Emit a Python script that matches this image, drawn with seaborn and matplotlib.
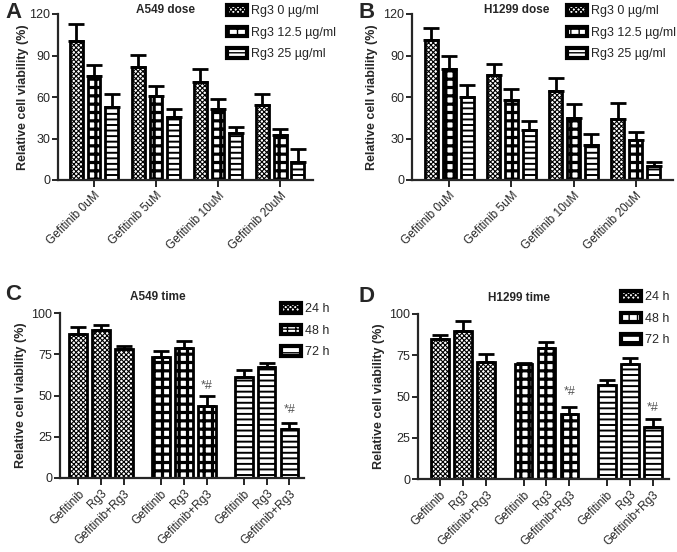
import numpy as np
import pandas as pd
import seaborn as sns
import matplotlib
matplotlib.use("Agg")
import matplotlib.pyplot as plt
from matplotlib.patches import Patch
from matplotlib.container import BarContainer

# ---------------- data ----------------
dose_cats = ["Gefitinib 0uM", "Gefitinib 5uM", "Gefitinib 10uM", "Gefitinib 20uM"]
dose_levels = ["Rg3 0 \u00b5g/ml", "Rg3 12.5 \u00b5g/ml", "Rg3 25 \u00b5g/ml"]

a549_rg3_0 = [100.8, 82.0, 70.5, 54.0]
a549_rg3_0_err = [12.0, 8.4, 9.5, 8.0]
a549_rg3_12 = [75.3, 61.0, 51.0, 32.5]
a549_rg3_12_err = [7.7, 7.0, 7.7, 4.5]
a549_rg3_25 = [53.0, 45.5, 34.0, 13.0]
a549_rg3_25_err = [9.3, 5.5, 4.0, 9.4]

h1299_rg3_0 = [101.0, 76.0, 64.0, 44.0]
h1299_rg3_0_err = [9.0, 8.0, 10.0, 12.0]
h1299_rg3_12 = [80.0, 58.0, 45.0, 29.0]
h1299_rg3_12_err = [10.0, 8.0, 10.0, 6.0]
h1299_rg3_25 = [60.0, 36.0, 25.0, 10.0]
h1299_rg3_25_err = [9.0, 7.0, 8.0, 3.0]

time_treat = ["Gefitinib", "Rg3", "Gefitinib+Rg3"]
time_levels = ["24 h", "48 h", "72 h"]

a549_24h = [87.0, 89.5, 78.0]
a549_24h_err = [4.5, 3.5, 2.0]
a549_48h = [73.5, 78.5, 43.5]
a549_48h_err = [3.5, 4.5, 6.0]
a549_72h = [61.0, 67.5, 30.0]
a549_72h_err = [4.5, 2.0, 3.5]

h1299_24h = [85.0, 90.0, 71.0]
h1299_24h_err = [2.0, 5.5, 5.0]
h1299_48h = [69.5, 79.5, 39.5]
h1299_48h_err = [1.0, 3.5, 4.0]
h1299_72h = [57.0, 70.0, 31.5]
h1299_72h_err = [3.0, 3.5, 5.0]

sig_label = "*#"
a549_sig_y = [55.5, 41.3]
h1299_sig_y = [52.6, 43.0]

# ---------------- style ----------------
sns.set_theme(style="ticks")
plt.rcParams["font.family"] = ["Liberation Sans", "DejaVu Sans"]
plt.rcParams["axes.linewidth"] = 1.6

W, H = 677, 552
fig = plt.figure(figsize=(W / 100, H / 100), dpi=100)

def px_axes(l, t, r, b):
    return fig.add_axes([l / W, 1 - b / H, (r - l) / W, (b - t) / H])

hatches = ["xxxxxxx", "++", "---"]
hatch_lw = [0.8, 2.3, 1.4]

def style_patch(p, i):
    p.set_hatch(hatches[i])
    if hasattr(p, "set_hatch_linewidth"):
        p.set_hatch_linewidth(hatch_lw[i])

def finish_axes(ax, ylim, yticks, ylabel_x_px, ax_left_px, ax_w_px):
    ax.set_ylim(*ylim)
    ax.set_yticks(yticks)
    ax.set_ylabel("Relative cell viability (%)", fontsize=9, fontweight="bold")
    ax.yaxis.set_label_coords((ylabel_x_px - ax_left_px) / ax_w_px, 0.5)
    ax.set_xlabel("")
    sns.despine(ax=ax)
    ax.tick_params(axis="y", labelsize=9, length=4, width=1.4, pad=1.5)
    ax.tick_params(axis="x", labelsize=8.5, length=5, width=1.4, pad=2)
    for lab in ax.get_xticklabels():
        lab.set_rotation(45)
        lab.set_ha("right")
        lab.set_rotation_mode("anchor")

def add_legend(ax, labels, x_px, y_px):
    handles = []
    for i, lab in enumerate(labels):
        p = Patch(facecolor="white", edgecolor="black", linewidth=3, label=lab)
        style_patch(p, i)
        handles.append(p)
    ax.legend(handles=handles, loc="upper left",
              bbox_to_anchor=(x_px / W, 1 - y_px / H), bbox_transform=fig.transFigure,
              frameon=False, fontsize=9, handlelength=1.6, handleheight=0.8,
              handletextpad=0.35, labelspacing=0.75, borderaxespad=0, borderpad=0)

def decorate_bars(ax, errs, capsize, sig_y=None):
    conts = [c for c in ax.containers if isinstance(c, BarContainer)]
    for i, cont in enumerate(conts):
        xs, ys = [], []
        for p in cont.patches:
            style_patch(p, i)
            xs.append(p.get_x() + p.get_width() / 2)
            ys.append(p.get_height())
        ax.errorbar(xs, ys, yerr=[np.zeros(len(ys)), errs[i]], fmt="none", ecolor="black",
                    elinewidth=2, capsize=capsize, capthick=2, zorder=1)
        if sig_y is not None and i >= 1:
            ax.text(xs[2], sig_y[i - 1], sig_label, fontsize=9, color="#555555",
                    ha="center", va="center")

def dose_panel(rect, xlim, vals, errs, title, title_xy, letter, letter_xy, leg_xy, ylabel_x):
    ax = px_axes(*rect)
    rows = []
    for lev, v in zip(dose_levels, vals):
        for c, y in zip(dose_cats, v):
            rows.append({"cat": c, "val": y, "level": lev})
    df = pd.DataFrame(rows)
    sns.barplot(data=df, x="cat", y="val", hue="level", order=dose_cats, hue_order=dose_levels,
                palette=["white"] * 3, width=0.86, gap=0.28, edgecolor="black", linewidth=2,
                errorbar=None, legend=False, ax=ax)
    decorate_bars(ax, errs, 5.5)
    ax.set_xlim(*xlim)
    finish_axes(ax, (0, 120), [0, 30, 60, 90, 120], ylabel_x, rect[0], rect[2] - rect[0])
    fig.text(title_xy[0] / W, 1 - title_xy[1] / H, title, fontsize=8.5, fontweight="bold",
             ha="center", va="center")
    fig.text(letter_xy[0] / W, 1 - letter_xy[1] / H, letter, fontsize=16, fontweight="bold",
             ha="center", va="center")
    add_legend(ax, dose_levels, *leg_xy)
    return ax

def time_panel(rect, xlim, vals, errs, sig_y, title, title_xy, letter, letter_xy, leg_xy, ylabel_x):
    ax = px_axes(*rect)
    group_start = [0.0, 3.63, 7.26]
    rows = []
    positions, labels = [], []
    for g, (lev, v) in enumerate(zip(time_levels, vals)):
        for j, (t, y) in enumerate(zip(time_treat, v)):
            pos = group_start[g] + j
            rows.append({"pos": pos, "val": y, "time": lev})
            positions.append(pos)
            labels.append(t)
    df = pd.DataFrame(rows)
    sns.barplot(data=df, x="pos", y="val", hue="time", hue_order=time_levels, native_scale=True,
                dodge=False, palette=["white"] * 3, width=0.78, edgecolor="black", linewidth=2,
                errorbar=None, legend=False, ax=ax)
    decorate_bars(ax, errs, 6, sig_y)
    ax.set_xticks(positions)
    ax.set_xticklabels(labels)
    ax.set_xlim(*xlim)
    finish_axes(ax, (0, 100), [0, 25, 50, 75, 100], ylabel_x, rect[0], rect[2] - rect[0])
    fig.text(title_xy[0] / W, 1 - title_xy[1] / H, title, fontsize=8.5, fontweight="bold",
             ha="center", va="center")
    fig.text(letter_xy[0] / W, 1 - letter_xy[1] / H, letter, fontsize=16, fontweight="bold",
             ha="center", va="center")
    add_legend(ax, time_levels, *leg_xy)
    return ax

dose_panel((58, 14, 313, 180), (-0.58, 3.53),
           [a549_rg3_0, a549_rg3_12, a549_rg3_25],
           [a549_rg3_0_err, a549_rg3_12_err, a549_rg3_25_err],
           "A549 dose", (165, 10), "A", (13, 12), (227, 5), 29)
dose_panel((412, 14, 673, 180), (-0.6, 3.6),
           [h1299_rg3_0, h1299_rg3_12, h1299_rg3_25],
           [h1299_rg3_0_err, h1299_rg3_12_err, h1299_rg3_25_err],
           "H1299 dose", (517, 10), "B", (367, 12), (567, 5), 378)
time_panel((60, 313, 304, 478), (-0.8, 9.9),
           [a549_24h, a549_48h, a549_72h],
           [a549_24h_err, a549_48h_err, a549_72h_err], a549_sig_y,
           "A549 time", (158, 297), "C", (13, 294), (281, 303), 27)
time_panel((418, 314, 669, 479), (-0.96, 9.96),
           [h1299_24h, h1299_48h, h1299_72h],
           [h1299_24h_err, h1299_48h_err, h1299_72h_err], h1299_sig_y,
           "H1299 time", (519, 298), "D", (367, 296), (621, 291), 385)

fig.savefig("out.png", dpi=100)
